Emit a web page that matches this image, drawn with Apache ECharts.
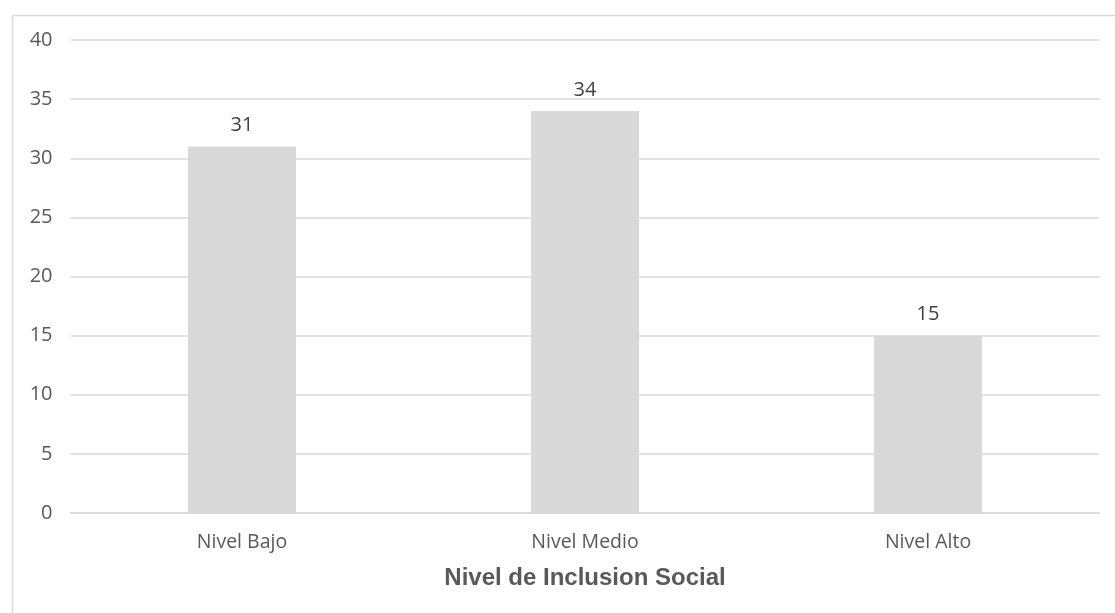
<!DOCTYPE html>
<html><head><meta charset="utf-8">
<script src="https://cdn.jsdelivr.net/npm/echarts@6/dist/echarts.min.js"></script>
<style>html,body{margin:0;padding:0;background:#fff}#c{width:1115px;height:613px}</style>
</head><body><div id="c"></div>
<script>
const categories = ['Nivel Bajo', 'Nivel Medio', 'Nivel Alto'];
const values = [31, 34, 15];
const axisTitle = 'Nivel de Inclusion Social';
const yMin = 0, yMax = 40, yStep = 5;

const chart = echarts.init(document.getElementById('c'), null, {renderer: 'canvas'});
chart.setOption({
  animation: false,
  backgroundColor: '#fff',
  graphic: [{
    type: 'rect', left: 10, top: 13, silent: true,
    shape: {width: 1120, height: 620},
    style: {fill: 'none', stroke: '#d9d9d9', lineWidth: 1.5}
  }],
  grid: {left: 70.5, right: 15.5, top: 40, bottom: 100, containLabel: false},
  xAxis: {
    type: 'category', data: categories,
    name: axisTitle, nameLocation: 'middle', nameGap: 53,
    nameTextStyle: {fontFamily: 'Liberation Sans', fontWeight: 'bold', fontSize: 24, color: '#595959'},
    axisLine: {show: true, lineStyle: {color: '#d9d9d9', width: 1.5}},
    axisTick: {show: false},
    axisLabel: {color: '#595959', fontSize: 19.5, lineHeight: 20, fontFamily: 'Open Sans', margin: 19}
  },
  yAxis: {
    type: 'value', min: yMin, max: yMax, interval: yStep,
    axisLine: {show: false}, axisTick: {show: false},
    axisLabel: {color: '#595959', fontSize: 20, fontFamily: 'Open Sans', margin: 18},
    splitLine: {lineStyle: {color: '#d9d9d9', width: 1.5}}
  },
  series: [{
    type: 'bar', data: values, barWidth: 108,
    itemStyle: {color: '#d9d9d9'},
    label: {show: true, position: 'top', distance: 11, lineHeight: 20, color: '#404040', fontSize: 20, fontFamily: 'Open Sans'}
  }]
});
</script></body></html>
